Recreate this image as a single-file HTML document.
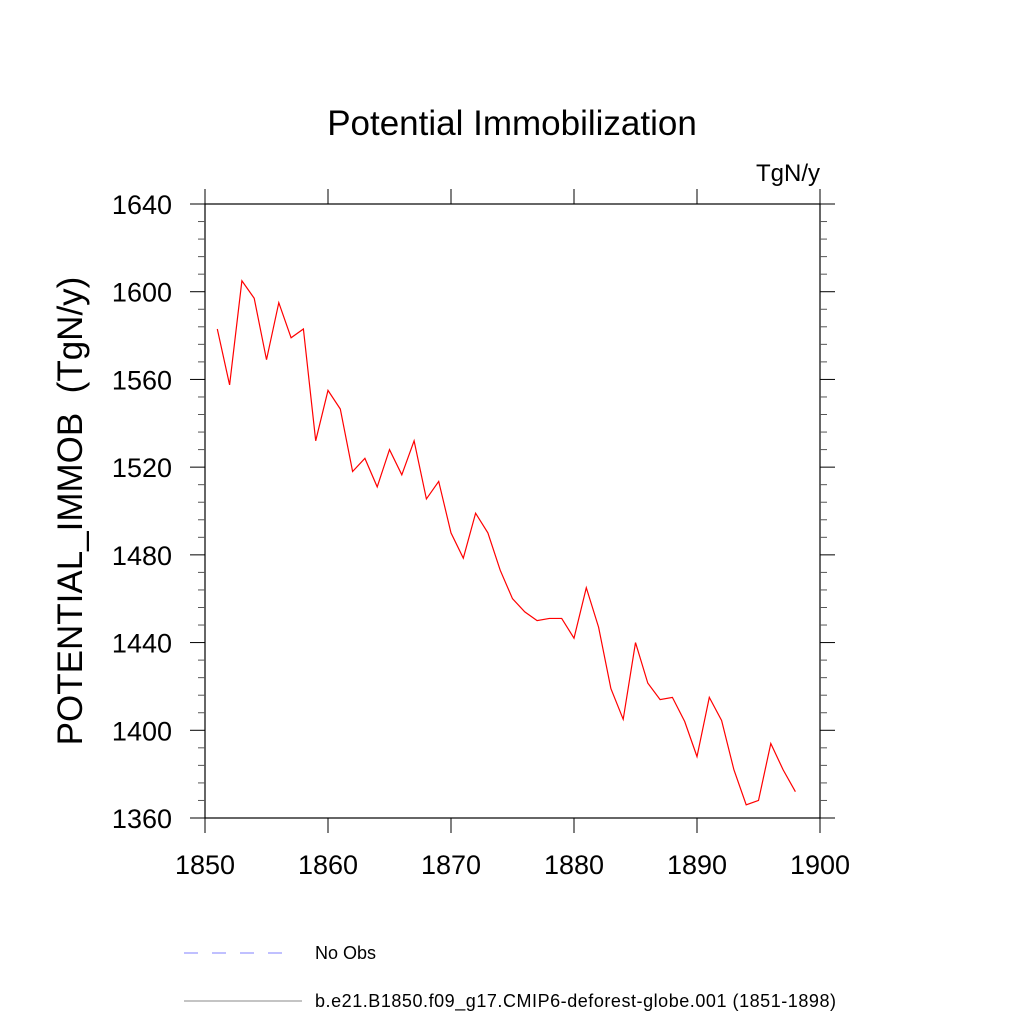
<!DOCTYPE html>
<html><head><meta charset="utf-8"><style>
html,body{margin:0;padding:0;background:#fff}
svg{display:block;font-family:"Liberation Sans",sans-serif}
</style></head><body>
<svg id="chart" width="1024" height="1024" viewBox="0 0 1024 1024">
<text x="512" y="135" font-size="35" text-anchor="middle">Potential Immobilization</text>
<text x="820" y="181" font-size="24" text-anchor="end">TgN/y</text>
<text transform="translate(82,511) rotate(-90)" font-size="35" text-anchor="middle" style="white-space:pre" xml:space="preserve">POTENTIAL_IMMOB  (TgN/y)</text>
<g id="axes"></g>
<g id="series"></g>
<g>
<line x1="184" y1="953" x2="292" y2="953" stroke="#8080ff" stroke-width="1" stroke-dasharray="14,14"/>
<text x="315" y="959" font-size="18">No Obs</text>
<line x1="184" y1="1001" x2="302" y2="1001" stroke="#888" stroke-width="1"/>
<text x="315" y="1007" font-size="18" textLength="521">b.e21.B1850.f09_g17.CMIP6-deforest-globe.001 (1851-1898)</text>
</g>
</svg>
<script>
const years = [1851,1852,1853,1854,1855,1856,1857,1858,1859,1860,1861,1862,1863,1864,1865,1866,1867,1868,1869,1870,1871,1872,1873,1874,1875,1876,1877,1878,1879,1880,1881,1882,1883,1884,1885,1886,1887,1888,1889,1890,1891,1892,1893,1894,1895,1896,1897,1898];
const values = [1583,1557.5,1605,1597,1569,1595,1579,1583,1532,1555,1546.5,1518,1524,1511,1528,1516.5,1532,1505.5,1513.5,1490,1478.5,1499,1490,1473,1460,1454,1450,1451,1451,1442,1465,1447,1419,1405,1440,1421.5,1414,1415,1404,1388,1415,1404.5,1382,1366,1368,1394,1382,1372];
const xTicks = [1850,1860,1870,1880,1890,1900];
const yTicks = [1360,1400,1440,1480,1520,1560,1600,1640];

const L=205,R=820,T=204,B=818;
const xS=v=>L+(v-1850)/(1900-1850)*(R-L);
const yS=v=>B-(v-1360)/(1640-1360)*(B-T);
const NS='http://www.w3.org/2000/svg';
const axes=document.getElementById('axes');
function mk(tag,attrs,parent){const e=document.createElementNS(NS,tag);for(const k in attrs)e.setAttribute(k,attrs[k]);parent.appendChild(e);return e;}
const frame=mk('rect',{x:L,y:T,width:R-L,height:B-T,fill:'none',stroke:'#000','stroke-width':1.2},axes);


xTicks.forEach(t=>{
  const x=xS(t);
  const a=mk('line',{x1:x,y1:B,x2:x,y2:B+15,stroke:'#000'},axes);
  
  
  const b=mk('line',{x1:x,y1:T,x2:x,y2:T-15,stroke:'#000'},axes);
  
  
  const tx=mk('text',{x:x,y:874,'font-size':27,'text-anchor':'middle'},axes);
  tx.textContent=t;
  
  
});
for(let v=1360;v<=1640;v+=8){
  const y=yS(v);const major=(v-1360)%40===0;const len=major?15:7;
  const a=mk('line',{x1:L,y1:y,x2:L-len,y2:y,stroke:major?'#000':'#555'},axes);
  
  
  const b=mk('line',{x1:R,y1:y,x2:R+len,y2:y,stroke:major?'#000':'#555'},axes);
  
  
}
yTicks.forEach(t=>{
  const tx=mk('text',{x:172,y:yS(t)+10,'font-size':27,'text-anchor':'end'},axes);
  tx.textContent=t;
  
  
});
const pts=years.map((yr,i)=>xS(yr)+','+yS(values[i])).join(' ');
const line=mk('polyline',{points:pts,fill:'none',stroke:'#ff0000','stroke-width':1.2},document.getElementById('series'));


</script>
</body></html>
